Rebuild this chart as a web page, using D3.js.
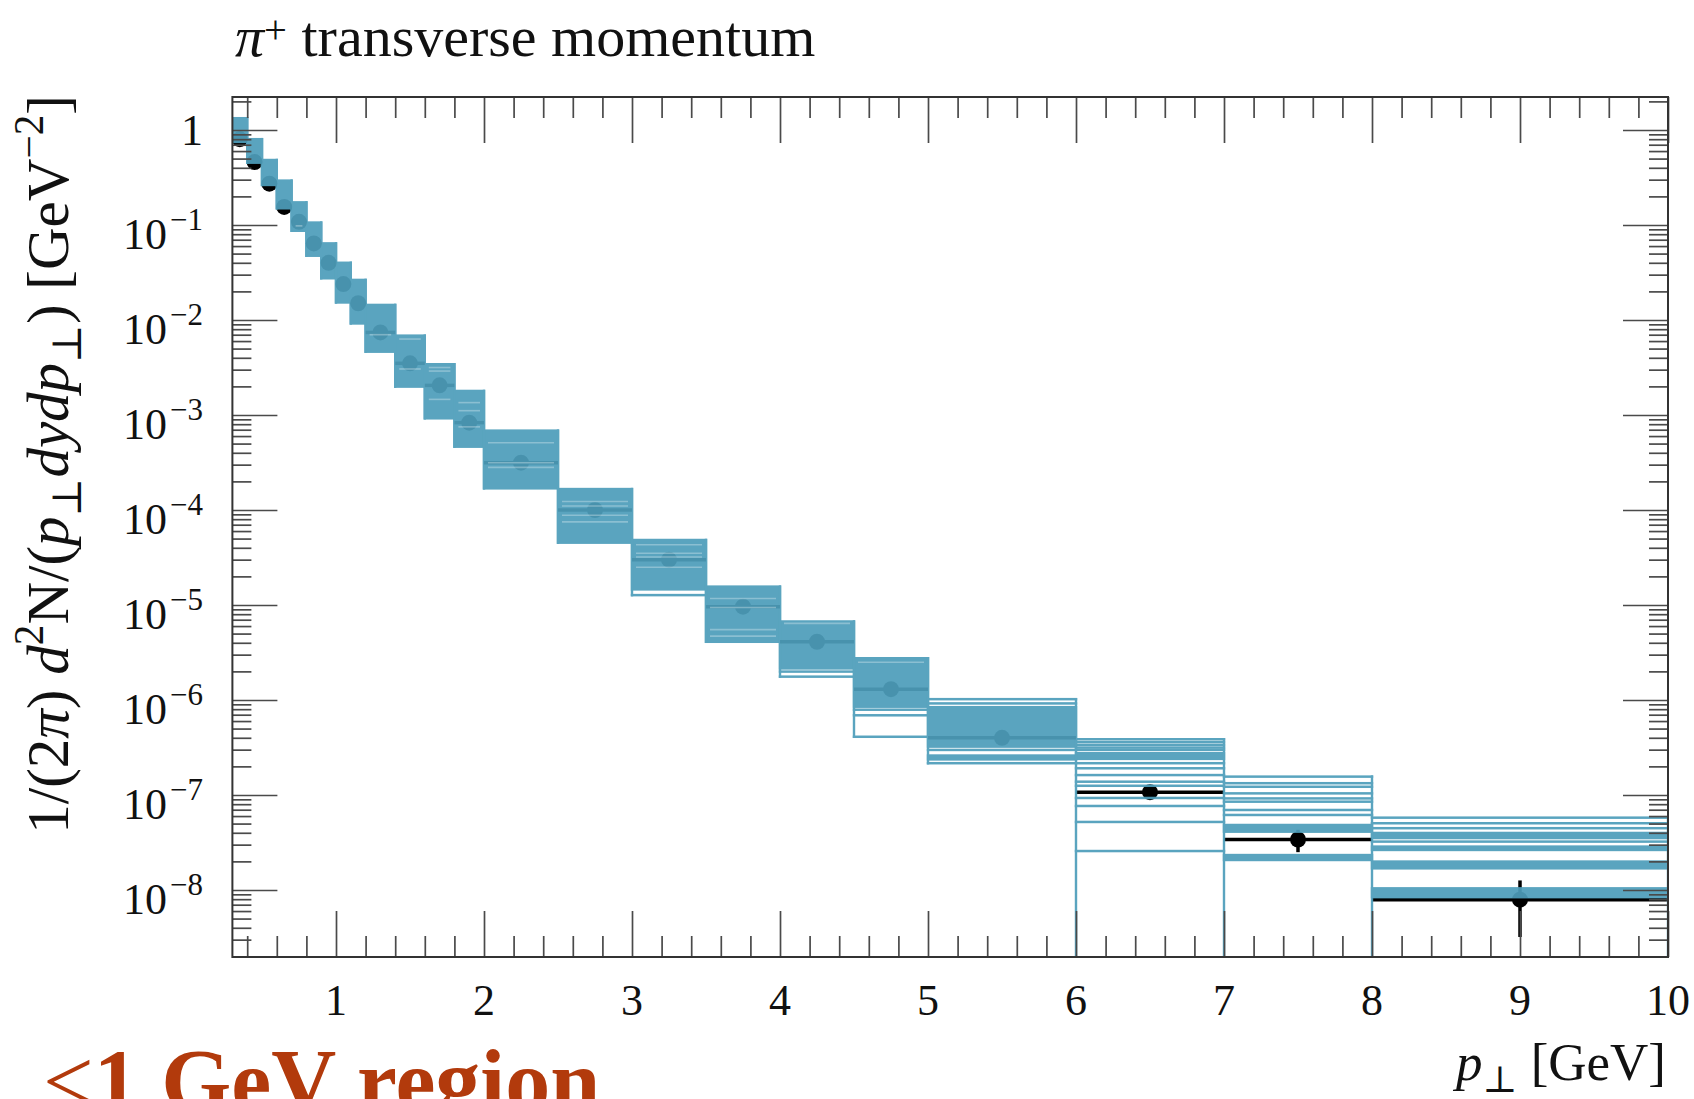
<!DOCTYPE html>
<html>
<head>
<meta charset="utf-8">
<script src="https://cdn.jsdelivr.net/npm/d3@7"></script>
<style>
  html, body { margin: 0; padding: 0; background: #fff; }
  svg { display: block; }
  text { font-family: "Liberation Serif", "DejaVu Serif", serif; fill: #111; }
</style>
</head>
<body>
<svg id="chart" width="1694" height="1099"></svg>
<script>
// pT bin edges [GeV]
const binEdges = [0.3, 0.4, 0.5, 0.6, 0.7, 0.8, 0.9, 1.0, 1.1, 1.2, 1.4, 1.6, 1.8, 2.0,
                  2.5, 3.0, 3.5, 4.0, 4.5, 5.0, 6.0, 7.0, 8.0, 10.0];

// measured yield per bin and its uncertainty
const dataValues = [0.80, 0.46, 0.272, 0.155, 0.108, 0.064, 0.040, 0.0239, 0.0150, 0.0074,
                    0.0035, 0.00205, 0.00083, 0.000315, 1.0e-4, 3.0e-5, 9.6e-6, 4.1e-6,
                    1.3e-6, 4.0e-7, 1.07e-7, 3.4e-8, 7.9e-9];
const dataErrors = [0.03, 0.018, 0.011, 0.006, 0.004, 0.0025, 0.0016, 0.001, 0.0006, 0.0003,
                    0.00015, 0.00009, 0.00004, 0.000015, 5e-6, 1.6e-6, 5e-7, 2.2e-7,
                    8e-8, 3e-8, 1.5e-8, 0.9e-8, 4.7e-9];

// simulated variations: per bin, the occupied [lo, hi] ranges (lo == hi is a single line)
const mcBands = [
  [[0.75, 1.33]],
  [[0.453, 0.80]],
  [[0.264, 0.483]],
  [[0.150, 0.293]],
  [[0.087, 0.173]],
  [[0.0475, 0.106]],
  [[0.0275, 0.064]],
  [[0.0153, 0.040]],
  [[0.0092, 0.0264]],
  [[0.00464, 0.0144]],
  [[0.00199, 0.00684]],
  [[0.000923, 0.00342]],
  [[0.000464, 0.00179]],
  [[0.000169, 0.000684]],
  [[4.53e-5, 1.66e-4]],
  [[1.27e-5, 1.27e-5], [1.46e-5, 4.83e-5]],
  [[4.1e-6, 1.56e-5]],
  [[1.76e-6, 1.76e-6], [1.99e-6, 1.99e-6], [2.15e-6, 6.7e-6]],
  [[4.1e-7, 4.1e-7], [6.9e-7, 6.9e-7], [7.9e-7, 7.9e-7], [8.5e-7, 2.75e-6]],
  [[2.16e-7, 2.16e-7], [2.37e-7, 2.6e-7], [2.98e-7, 2.98e-7], [3.23e-7, 8.4e-7],
   [9.2e-7, 9.2e-7], [1.02e-6, 1.02e-6]],
  [[2.57e-8, 2.57e-8], [5.2e-8, 5.2e-8], [7.66e-8, 7.66e-8], [9.3e-8, 9.3e-8],
   [1.25e-7, 1.25e-7], [1.38e-7, 1.38e-7], [1.62e-7, 1.62e-7], [1.91e-7, 1.91e-7],
   [2.16e-7, 2.16e-7], [2.4e-7, 2.75e-7], [2.98e-7, 2.98e-7], [3.15e-7, 3.15e-7],
   [3.36e-7, 3.36e-7], [3.6e-7, 3.6e-7], [3.86e-7, 3.86e-7]],
  [[2.07e-8, 2.33e-8], [4.11e-8, 4.83e-8], [6.16e-8, 6.16e-8], [6.95e-8, 6.95e-8],
   [8.5e-8, 8.5e-8], [9.2e-8, 9.2e-8], [1.04e-7, 1.04e-7], [1.22e-7, 1.22e-7],
   [1.33e-7, 1.33e-7], [1.56e-7, 1.56e-7]],
  [[8.4e-9, 1.04e-8], [1.69e-8, 1.99e-8], [2.64e-8, 2.86e-8], [3.23e-8, 3.23e-8],
   [3.52e-8, 3.98e-8], [4.47e-8, 4.47e-8], [5.04e-8, 5.04e-8], [5.77e-8, 5.77e-8]]
];

// bins where at least one variation has no entries
const mcHasEmpty = [false, false, false, false, false, false, false, false, false, false,
                    false, false, false, false, false, false, false, false, false, false,
                    true, true, true];

// thinner spots inside the dense band
const mcLightStripes = [
  [], [], [], [], [0.098], [], [], [], [],
  [0.0070],
  [0.0063, 0.00305],
  [0.00316, 0.0029, 0.00146],
  [0.00135, 0.00111, 0.00075],
  [0.00051, 0.000314, 0.000281],
  [1.23e-4, 1.1e-4, 8.8e-5, 7.5e-5],
  [4.3e-5, 3.5e-5, 3.2e-5, 2.5e-5],
  [1.17e-5, 9.4e-6, 5.5e-6, 4.7e-6],
  [6.4e-6],
  [2.5e-6],
  [], [], [], []
];

const xTickValues = [1, 2, 3, 4, 5, 6, 7, 8, 9, 10];
const xTickLabels = ["1", "2", "3", "4", "5", "6", "7", "8", "9", "10"];
const yTickExponents = [0, -1, -2, -3, -4, -5, -6, -7, -8];

const titleMain = " transverse momentum";
const footNote = "1 GeV region";

// ---------------------------------------------------------------
const svg = d3.select("#chart");
const frame = { left: 232.4, right: 1668, top: 97, bottom: 957 };

const x = d3.scaleLinear().domain([0.3, 10]).range([frame.left, frame.right]);
const y = d3.scaleLog().domain([1.97e-9, 2.225]).range([frame.bottom, frame.top]);

const mcColor = "#4e9ebb";
const mcOpacity = 0.93;

svg.append("defs").append("clipPath").attr("id", "plotClip")
  .append("rect")
  .attr("x", frame.left).attr("y", frame.top)
  .attr("width", frame.right - frame.left).attr("height", frame.bottom - frame.top);

const plot = svg.append("g").attr("clip-path", "url(#plotClip)");

// data points
const bins = dataValues.map((v, i) => ({
  x0: binEdges[i], x1: binEdges[i + 1], v, e: dataErrors[i]
}));
const dataG = plot.append("g");
dataG.selectAll("line.xerr").data(bins).join("line")
  .attr("x1", d => x(d.x0)).attr("x2", d => x(d.x1))
  .attr("y1", d => y(d.v)).attr("y2", d => y(d.v))
  .attr("stroke", "#000").attr("stroke-width", 3.5);
dataG.selectAll("line.yerr").data(bins).join("line")
  .attr("x1", d => x((d.x0 + d.x1) / 2)).attr("x2", d => x((d.x0 + d.x1) / 2))
  .attr("y1", d => y(d.v + d.e)).attr("y2", d => y(Math.max(d.v - d.e, 1e-12)))
  .attr("stroke", "#000").attr("stroke-width", 3.5);
dataG.selectAll("circle").data(bins).join("circle")
  .attr("cx", d => x((d.x0 + d.x1) / 2)).attr("cy", d => y(d.v))
  .attr("r", 8).attr("fill", "#000");

// simulated band (one translucent layer so overlaps do not darken)
const mcG = plot.append("g").attr("opacity", mcOpacity);
const half = 1.25;
mcBands.forEach((segs, i) => {
  const xa = x(binEdges[i]), xb = x(binEdges[i + 1]);
  segs.forEach(([lo, hi]) => {
    mcG.append("rect")
      .attr("x", xa - 1.2).attr("width", xb - xa + 2.4)
      .attr("y", y(hi) - half).attr("height", y(lo) - y(hi) + 2 * half)
      .attr("fill", mcColor);
  });
});
const binLo = mcBands.map((segs, i) => mcHasEmpty[i] ? y.domain()[0] : d3.min(segs, s => s[0]));
const binHi = mcBands.map(segs => d3.max(segs, s => s[1]));
binEdges.forEach((edge, j) => {
  const adj = [j - 1, j].filter(k => k >= 0 && k < mcBands.length);
  const top = d3.max(adj, k => binHi[k]);
  const bot = d3.min(adj, k => binLo[k]);
  mcG.append("line")
    .attr("x1", x(edge)).attr("x2", x(edge))
    .attr("y1", y(top) - half).attr("y2", y(bot) + half)
    .attr("stroke", mcColor).attr("stroke-width", 2.4);
});

// lighter stripes inside the dense band
const stripeG = plot.append("g");
mcLightStripes.forEach((vals, i) => {
  const xa = x(binEdges[i]), xb = x(binEdges[i + 1]);
  vals.forEach(v => {
    stripeG.append("line")
      .attr("x1", xa + 4).attr("x2", xb - 4)
      .attr("y1", y(v)).attr("y2", y(v))
      .attr("stroke", "#fff").attr("stroke-opacity", 0.3).attr("stroke-width", 1.6);
  });
});

// axes: ticks point inwards on all four sides
const tickColor = "#4a4a4a";
const xMinor = d3.range(2, 50).filter(i => i % 5 !== 0).map(i => i / 5);
const yMinor = [];
for (let k = -9; k <= 0; k++) {
  for (let m = 2; m <= 9; m++) {
    const v = m * Math.pow(10, k);
    if (v > y.domain()[0] && v < y.domain()[1]) yMinor.push(v);
  }
}
const yMajor = yTickExponents.map(k => Math.pow(10, k));

function styleAxis(g) {
  g.select(".domain").remove();
  g.selectAll(".tick line").attr("stroke", tickColor).attr("stroke-width", 1.7);
  g.selectAll(".tick text").remove();
}
svg.append("g").attr("transform", `translate(0,${frame.bottom})`)
  .call(d3.axisBottom(x).tickValues(xTickValues).tickSize(-46)).call(styleAxis);
svg.append("g").attr("transform", `translate(0,${frame.bottom})`)
  .call(d3.axisBottom(x).tickValues(xMinor).tickSize(-21)).call(styleAxis);
svg.append("g").attr("transform", `translate(0,${frame.top})`)
  .call(d3.axisTop(x).tickValues(xTickValues).tickSize(-46)).call(styleAxis);
svg.append("g").attr("transform", `translate(0,${frame.top})`)
  .call(d3.axisTop(x).tickValues(xMinor).tickSize(-21)).call(styleAxis);
svg.append("g").attr("transform", `translate(${frame.left},0)`)
  .call(d3.axisLeft(y).tickValues(yMajor).tickSize(-45)).call(styleAxis);
svg.append("g").attr("transform", `translate(${frame.left},0)`)
  .call(d3.axisLeft(y).tickValues(yMinor).tickSize(-19)).call(styleAxis);
svg.append("g").attr("transform", `translate(${frame.right},0)`)
  .call(d3.axisRight(y).tickValues(yMajor).tickSize(-45)).call(styleAxis);
svg.append("g").attr("transform", `translate(${frame.right},0)`)
  .call(d3.axisRight(y).tickValues(yMinor).tickSize(-19)).call(styleAxis);

svg.append("rect")
  .attr("x", frame.left).attr("y", frame.top)
  .attr("width", frame.right - frame.left).attr("height", frame.bottom - frame.top)
  .attr("fill", "none").attr("stroke", "#333").attr("stroke-width", 2);

// x tick labels
svg.append("g").selectAll("text").data(xTickValues).join("text")
  .attr("x", d => x(d)).attr("y", 1015)
  .attr("text-anchor", "middle").attr("font-size", 44)
  .text((d, i) => xTickLabels[i]);

// y tick labels: 1, 10^-1 ... 10^-8
const yLab = svg.append("g");
yTickExponents.forEach(k => {
  const ty = y(Math.pow(10, k));
  if (k === 0) {
    yLab.append("text").attr("x", 203).attr("y", ty + 15)
      .attr("text-anchor", "end").attr("font-size", 44).text("1");
  } else {
    const t = yLab.append("text").attr("x", 203).attr("y", ty + 24)
      .attr("text-anchor", "end").attr("font-size", 44);
    t.append("tspan").text("10");
    t.append("tspan").attr("font-size", 31).attr("dy", -19).attr("dx", 3)
      .text("\u2212" + Math.abs(k));
  }
});

// helper for rich text with italic / superscript / subscript pieces
function richText(sel, parts, size, supRaise = 0.42) {
  let shift = 0;
  parts.forEach(p => {
    const ts = sel.append("tspan").text(p.t);
    let target = 0, fs = size;
    if (p.sup) { target = -supRaise * size; fs = 0.7 * size; }
    if (p.sub) { target = 0.22 * size; fs = 0.7 * size; }
    ts.attr("font-size", fs);
    if (p.i) ts.attr("font-style", "italic");
    if (target !== shift) { ts.attr("dy", target - shift); shift = target; }
  });
}

// title
const title = svg.append("text").attr("x", 235).attr("y", 56);
richText(title, [{ t: "\u03c0", i: true }, { t: "+", sup: true }, { t: titleMain }], 58, 0.22);

// x axis title
const xTitle = svg.append("text").attr("x", 1666).attr("y", 1080).attr("text-anchor", "end");
richText(xTitle, [{ t: "p", i: true }, { t: "\u22a5", sub: true }, { t: " [GeV]" }], 53);

// y axis title
const yTitle = svg.append("text")
  .attr("transform", `translate(68,${frame.top - 2}) rotate(-90)`)
  .attr("text-anchor", "end");
richText(yTitle, [
  { t: "1/(2" }, { t: "\u03c0", i: true }, { t: ") " }, { t: "d", i: true }, { t: "2", sup: true },
  { t: "N/(" }, { t: "p", i: true }, { t: "\u22a5", sub: true }, { t: "dydp", i: true },
  { t: "\u22a5", sub: true }, { t: ") [GeV" }, { t: "\u22122", sup: true }, { t: "]" }
], 59);

// footnote
const foot = svg.append("text").attr("x", 43).attr("y", 1112)
  .attr("font-size", 90).style("fill", "#b23a0c");
foot.append("tspan").text("<");
foot.append("tspan").attr("font-weight", "bold").text(footNote);
</script>
</body>
</html>
